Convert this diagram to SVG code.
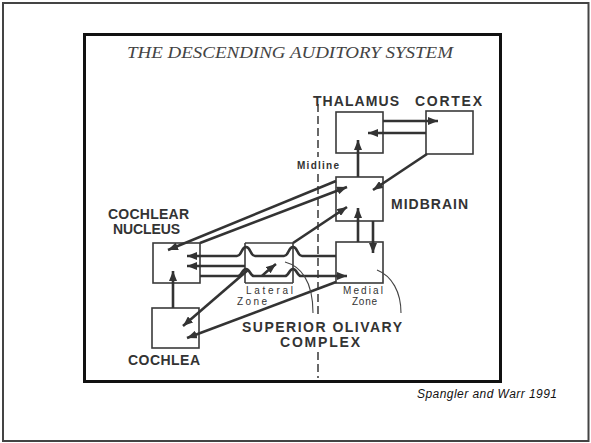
<svg xmlns="http://www.w3.org/2000/svg" width="591" height="443" viewBox="0 0 591 443">
  <defs>
    <style>
      .box { fill: none; stroke: #3a3a3a; stroke-width: 1.6; }
      .con { fill: none; stroke: #333; stroke-width: 2.6; }
      .thin { fill: none; stroke: #444; stroke-width: 1.1; }
      .mid { fill: none; stroke: #444; stroke-width: 1.6; stroke-dasharray: 8 4; }
      .lbl { font-family: "Liberation Sans", Arial, sans-serif; font-weight: bold; font-size: 14px; fill: #333; }
      .sm { font-family: "Liberation Sans", Arial, sans-serif; font-size: 10px; fill: #333; }
    </style>
    <marker id="ah" markerUnits="userSpaceOnUse" markerWidth="10" markerHeight="8" refX="10" refY="4" orient="auto">
      <path d="M0,0 L10,4 L0,8 z" fill="#333"/>
    </marker>
  </defs>

  <rect x="3" y="3" width="585.5" height="438" fill="#fff" stroke="#444" stroke-width="2"/>
  <rect x="84.5" y="34.5" width="416" height="347" fill="#fff" stroke="#111" stroke-width="3"/>

  <text x="127" y="58" font-family="'Liberation Serif', 'Times New Roman', serif" font-style="italic" font-size="16" fill="#444" textLength="326" lengthAdjust="spacingAndGlyphs">THE DESCENDING AUDITORY SYSTEM</text>

  <g id="midline">
    <line class="mid" x1="318" y1="104" x2="318" y2="157"/>
    <line class="mid" x1="318" y1="174" x2="318" y2="316"/>
    <line class="mid" x1="318" y1="352" x2="318" y2="378"/>
    <text class="sm" x="297" y="169" font-size="9" font-weight="bold" textLength="42">Midline</text>
  </g>

  <g id="thalamus">
    <rect class="box" x="336" y="112" width="47" height="41"/>
    <text class="lbl" x="313" y="106" textLength="86">THALAMUS</text>
  </g>
  <g id="cortex">
    <rect class="box" x="426" y="111" width="47" height="43"/>
    <text class="lbl" x="415" y="106" textLength="67">CORTEX</text>
  </g>
  <g id="midbrain">
    <rect class="box" x="336" y="177" width="47" height="44"/>
    <text class="lbl" x="391" y="209" textLength="77">MIDBRAIN</text>
  </g>
  <g id="medial-zone">
    <rect class="box" x="336" y="242" width="47" height="41"/>
    <text class="sm" x="343" y="294" textLength="40">Medial</text>
    <text class="sm" x="352" y="305" textLength="25">Zone</text>
  </g>
  <g id="lateral-zone">
    <line class="box" x1="245" y1="243" x2="293" y2="243"/>
    <line class="box" x1="245" y1="243" x2="245" y2="283"/>
    <line class="box" x1="293" y1="243" x2="293" y2="283"/>
    <line class="box" x1="245" y1="283" x2="293" y2="283"/>
    <text class="sm" x="246" y="294" textLength="47">Lateral</text>
    <text class="sm" x="237" y="305" textLength="30">Zone</text>
  </g>
  <g id="cochlear-nucleus">
    <rect class="box" x="153" y="243" width="47" height="40"/>
    <text class="lbl" x="108" y="219" font-size="13" textLength="81">COCHLEAR</text>
    <text class="lbl" x="113" y="234" font-size="13" textLength="67">NUCLEUS</text>
  </g>
  <g id="cochlea">
    <rect class="box" x="152" y="308" width="47" height="40"/>
    <text class="lbl" x="128" y="365" textLength="72">COCHLEA</text>
  </g>
  <g id="soc-label">
    <text class="lbl" x="242" y="332" font-size="13.4" textLength="160">SUPERIOR OLIVARY</text>
    <text class="lbl" x="280" y="347" font-size="13.4" textLength="80">COMPLEX</text>
  </g>

  <g id="connectors">
    <line class="con" x1="383" y1="121" x2="438" y2="121" marker-end="url(#ah)"/>
    <line class="con" x1="426" y1="133" x2="368" y2="133" marker-end="url(#ah)"/>
    <line class="con" x1="358" y1="177" x2="358" y2="140" marker-end="url(#ah)"/>
    <line class="con" x1="427" y1="154" x2="373" y2="190" marker-end="url(#ah)"/>
    <line class="con" x1="373" y1="221" x2="373" y2="253" marker-end="url(#ah)"/>
    <line class="con" x1="358" y1="242" x2="358" y2="208" marker-end="url(#ah)"/>
    <line class="con" x1="336" y1="181" x2="168" y2="250" marker-end="url(#ah)"/>
    <line class="con" x1="200" y1="243" x2="347" y2="187" marker-end="url(#ah)"/>
    <line class="con" x1="293" y1="243" x2="347" y2="207" marker-end="url(#ah)"/>
    <path class="con" d="M336,256 L302,256 C297,256 298,247 293,247 C288,247 289,256 284,256 L255,256 C250,256 251,247 246,247 C241,247 242,256 237,256 L187,256" marker-end="url(#ah)"/>
    <line class="con" x1="245" y1="266" x2="187" y2="266" marker-end="url(#ah)"/>
    <path class="con" d="M200,276 L238,276 C242,276 242,269 246,269 C250,269 250,276 254,276 L285,276 C289,276 289,269 293,269 C297,269 297,276 301,276 L347,276" marker-end="url(#ah)"/>
    <path class="con" d="M262,276 Q267,271 276,264" marker-end="url(#ah)"/>
    <line class="con" x1="173" y1="308" x2="173" y2="271" marker-end="url(#ah)"/>
    <line class="con" x1="248" y1="270" x2="183" y2="326" marker-end="url(#ah)"/>
    <line class="con" x1="336" y1="282" x2="187" y2="338" marker-end="url(#ah)"/>
    <path class="thin" d="M285,262 C300,266 313,280 313,313"/>
    <path class="thin" d="M377,270 C392,276 401,292 401,313"/>
  </g>

  <text x="417" y="398" font-family="'Liberation Sans', Arial, sans-serif" font-style="italic" font-size="12" fill="#111" textLength="140">Spangler and Warr 1991</text>
</svg>
